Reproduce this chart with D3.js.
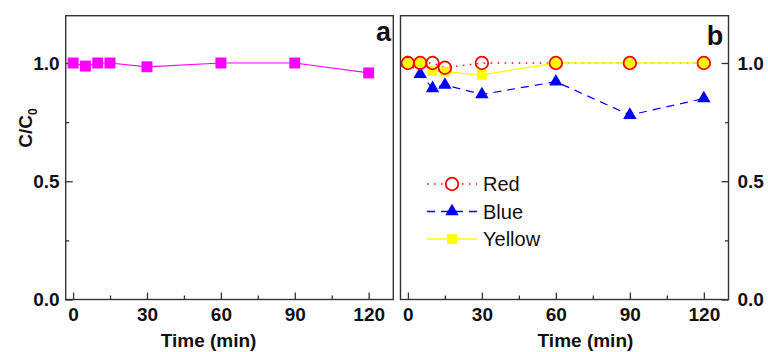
<!DOCTYPE html>
<html><head><meta charset="utf-8">
<script src="https://cdn.jsdelivr.net/npm/d3@7"></script>
<style>body{margin:0;background:#fff}svg{display:block}text{font-family:"Liberation Sans",Arial,sans-serif}</style>
</head><body><svg id="c" width="768" height="352"></svg>
<script>
const times = [0, 5, 10, 15, 30, 60, 90, 120];
const magenta = [1.0, 0.987, 1.0, 1.0, 0.984, 1.0, 1.0, 0.958];
const red = [1.0, 1.0, 1.0, 0.98, 1.0, 1.0, 1.0, 1.0];
const blue = [1.0, 0.953, 0.893, 0.907, 0.867, 0.921, 0.78, 0.85];
const yellow = [1.0, 1.0, 0.966, 0.963, 0.95, 1.0, 1.0, 1.0];
const xMajor = [0, 30, 60, 90, 120];
const xMinor = [15, 45, 75, 105];
const yMajor = [0.0, 0.5, 1.0];
const yMinor = [0.25, 0.75];
const legendNames = ["Red", "Blue", "Yellow"];

const svg = d3.select("#c");
const y = d3.scaleLinear([0, 1.2], [299.5, 15.7]);
const xA = d3.scaleLinear([-3, 130], [65.7, 393.3]);
const xB = d3.scaleLinear([-3, 130], [400.5, 728.5]);
const axisCol = "#333";

function frame(x, side) {
  const g = svg.append("g");
  const [x0, x1] = x.range();
  g.append("g").attr("transform", `translate(0,${y(0)})`)
    .call(d3.axisBottom(x).tickValues(xMinor).tickSize(-4).tickFormat(""))
    .call(s => s.select(".domain").remove());
  g.append("g").attr("transform", `translate(0,${y(0)})`)
    .call(d3.axisBottom(x).tickValues(xMajor).tickSize(-7).tickPadding(8).tickFormat(d3.format("d")))
    .call(s => s.select(".domain").remove());
  const yAx = side === "left" ? d3.axisLeft(y) : d3.axisRight(y);
  const yx = side === "left" ? x0 : x1;
  g.append("g").attr("transform", `translate(${yx},0)`)
    .call((side === "left" ? d3.axisLeft(y) : d3.axisRight(y)).tickValues(yMinor).tickSize(-3.5).tickFormat(""))
    .call(s => s.select(".domain").remove());
  g.append("g").attr("transform", `translate(${yx},0)`)
    .call(yAx.tickValues(yMajor).tickSize(-7).tickPadding(side === "left" ? 6 : 9).tickFormat(d3.format(".1f")))
    .call(s => s.select(".domain").remove());
  g.selectAll(".tick line").attr("stroke", axisCol).attr("stroke-width", 1.3);
  g.selectAll(".tick text").attr("fill", "#111").style("font-size", "19px").style("font-weight", "bold").style("font-family", '"Liberation Sans",Arial,sans-serif');
  g.append("rect").attr("x", x0).attr("y", y(1.2)).attr("width", x1 - x0).attr("height", y(0) - y(1.2))
    .attr("fill", "none").attr("stroke", axisCol).attr("stroke-width", 1.4);
  return g;
}
frame(xA, "left");
frame(xB, "right");

svg.append("text").attr("x", xA(55)).attr("y", 347).attr("text-anchor", "middle")
  .style("font-size", "19px").style("font-weight", "bold").attr("fill", "#111").text("Time (min)");
svg.append("text").attr("x", xB(72)).attr("y", 347).attr("text-anchor", "middle")
  .style("font-size", "19px").style("font-weight", "bold").attr("fill", "#111").text("Time (min)");
const yl = svg.append("text").attr("transform", "translate(32,128) rotate(-90)").attr("text-anchor", "middle")
  .style("font-size", "19px").style("font-weight", "bold").attr("fill", "#111");
yl.append("tspan").text("C/C");
yl.append("tspan").attr("dy", 5).style("font-size", "12px").text("0");
svg.append("text").attr("x", xA(126)).attr("y", 41).attr("text-anchor", "middle")
  .style("font-size", "27px").style("font-weight", "bold").attr("fill", "#111").text("a");
svg.append("text").attr("x", xB(124.5)).attr("y", 45).attr("text-anchor", "middle")
  .style("font-size", "27px").style("font-weight", "bold").attr("fill", "#111").text("b");

const sym = (type, size) => d3.symbol().type(type).size(size)();

const pa = times.map((t, i) => [t, magenta[i]]);
svg.append("path").datum(pa).attr("fill", "none").attr("stroke", "#ff00ff").attr("stroke-width", 1.2)
  .attr("d", d3.line().x(d => xA(d[0])).y(d => y(d[1])));
svg.selectAll(".ma").data(pa).join("path").attr("transform", d => `translate(${xA(d[0])},${y(d[1])})`)
  .attr("d", sym(d3.symbolSquare, 120)).attr("fill", "#ff00ff");

const pb = arr => times.map((t, i) => [t, arr[i]]);
const lineB = d3.line().x(d => xB(d[0])).y(d => y(d[1]));
svg.append("path").datum(pb(blue)).attr("fill", "none").attr("stroke", "#0000ff").attr("stroke-width", 1.2)
  .attr("stroke-dasharray", "8,6").attr("d", lineB);
svg.selectAll(".bl").data(pb(blue)).join("path").attr("transform", d => `translate(${xB(d[0])},${y(d[1])})`)
  .attr("d", sym(d3.symbolTriangle, 78)).attr("fill", "#0000ff");
svg.append("path").datum(pb(red)).attr("fill", "none").attr("stroke", "#ff0000").attr("stroke-width", 1.4)
  .attr("stroke-dasharray", "1.5,5.5").attr("d", lineB);
svg.append("path").datum(pb(yellow)).attr("fill", "none").attr("stroke", "#ffff00").attr("stroke-width", 1.4)
  .attr("d", lineB);
svg.selectAll(".ye").data(pb(yellow)).join("path").attr("transform", d => `translate(${xB(d[0])},${y(d[1])})`)
  .attr("d", sym(d3.symbolSquare, 95)).attr("fill", "#ffff00");
svg.selectAll(".re").data(pb(red)).join("circle").attr("cx", d => xB(d[0])).attr("cy", d => y(d[1]))
  .attr("r", 6.3).attr("fill", "none").attr("stroke", "#ff0000").attr("stroke-width", 1.8);

const leg = [
  {name: legendNames[0], col: "#ff0000", dash: "1.5,5.5", y: 184},
  {name: legendNames[1], col: "#0000ff", dash: "8,6", y: 211.5},
  {name: legendNames[2], col: "#ffff00", dash: null, y: 239}
];
const lx0 = 427, lx1 = 477, lm = 452;
leg.forEach((L, i) => {
  svg.append("line").attr("x1", lx0).attr("x2", lx1).attr("y1", L.y).attr("y2", L.y)
    .attr("stroke", L.col).attr("stroke-width", 1.4).attr("stroke-dasharray", L.dash);
  const m = svg.append("g").attr("transform", `translate(${lm},${L.y})`);
  if (i === 0) m.append("circle").attr("r", 6.3).attr("fill", "#fff").attr("stroke", L.col).attr("stroke-width", 1.8);
  if (i === 1) m.append("path").attr("d", sym(d3.symbolTriangle, 78)).attr("fill", L.col);
  if (i === 2) m.append("path").attr("d", sym(d3.symbolSquare, 95)).attr("fill", L.col);
  svg.append("text").attr("x", 483).attr("y", L.y + 7).style("font-size", "20px").attr("fill", "#111").text(L.name);
});
</script></body></html>
